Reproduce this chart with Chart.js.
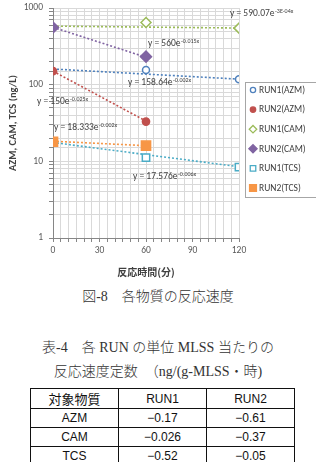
<!DOCTYPE html>
<html>
<head>
<meta charset="utf-8">
<script src="https://cdn.jsdelivr.net/npm/chart.js@4.4.1/dist/chart.umd.min.js"></script>
<style>
    body { margin: 0; background: #fff; width: 316px; height: 462px; overflow: hidden; position: relative; }
    #chart-box { position: absolute; left: 0; top: 0; width: 316px; height: 282px; }
    .serif { position: absolute; left: 0; width: 316px; text-align: center; color: #333;
             font-family: "Liberation Serif", "DejaVu Serif", "Noto Sans CJK JP", serif; font-weight: 300;
             font-size: 14px; line-height: 24px; white-space: nowrap; }
    #caption { top: 285px; }
    #table-title { top: 336px; }
    table { position: absolute; left: 30px; top: 388px; border-collapse: collapse; table-layout: fixed;
            font-family: "Liberation Sans", Arial, "Noto Sans CJK JP", sans-serif; font-size: 12px; color: #111; }
    td { border: 1px solid #111; height: 18px; padding: 0; text-align: center; width: 87px; }
    td.jp { font-size: 13px; }
</style>
</head>
<body>
<div id="chart-box"><canvas id="chart" width="316" height="282"></canvas></div>
<div id="caption" class="serif">図-8　各物質の反応速度</div>
<div id="table-title" class="serif">表-4　各 RUN の単位 MLSS 当たりの<br>反応速度定数　（ng/(g-MLSS・時)</div>
<table id="rate-table"></table>

<script>
// 1. Data
const seriesNames = ['RUN1(AZM)', 'RUN2(AZM)', 'RUN1(CAM)', 'RUN2(CAM)', 'RUN1(TCS)', 'RUN2(TCS)'];
const run1Times = [60, 120];
const run2Times = [0, 60];
const run1Azm = [155, 118];
const run2Azm = [150, 33];
const run1Cam = [648, 546];
const run2Cam = [557, 232];
const run1Tcs = [11.2, 8.4];
const run2Tcs = [18, 16];

// trend lines (end points)
const run1TrendTimes = [0, 120];
const run2TrendTimes = [0, 60];
const run1AzmTrend = [160, 118];
const run2AzmTrend = [150, 33.5];
const run1CamTrend = [580, 548];
const run2CamTrend = [560, 228];
const run1TcsTrend = [17.6, 8.5];
const run2TcsTrend = [18.3, 16];

const trendBase = ['y = 158.64e', 'y = 150e', 'y = 590.07e', 'y = 560e', 'y = 17.576e', 'y = 18.333e'];
const trendExp = ['-0.002x', '-0.025x', '-3E-04x', '-0.015x', '-0.006x', '-0.002x'];

const xLabelValues = [0, 30, 60, 90, 120];
const yLabelValues = [1, 10, 100, 1000];

const tableHead = ['対象物質', 'RUN1', 'RUN2'];
const tableRows = [
    ['AZM', '−0.17', '−0.61'],
    ['CAM', '−0.026', '−0.37'],
    ['TCS', '−0.52', '−0.05']
];

// 2. Styles
const colors = ['#4F81BD', '#C0504D', '#9BBB59', '#8064A2', '#4BACC6', '#F79646'];
const shapes = ['circle', 'circle', 'rectRot', 'rectRot', 'rect', 'rect'];
const hollow = [true, false, true, false, true, false];
const sizes = [3.5, 3.6, 5, 5.5, 5.2, 6.5];
const tickFont = { family: 'Carlito, Lato, "Open Sans", sans-serif', size: 9.5 };

// 3. Datasets
const xs = [run1Times, run2Times, run1Times, run2Times, run1Times, run2Times];
const ys = [run1Azm, run2Azm, run1Cam, run2Cam, run1Tcs, run2Tcs];
const trendXs = [run1TrendTimes, run2TrendTimes, run1TrendTimes, run2TrendTimes, run1TrendTimes, run2TrendTimes];
const trendYs = [run1AzmTrend, run2AzmTrend, run1CamTrend, run2CamTrend, run1TcsTrend, run2TcsTrend];

const markerSets = seriesNames.map((name, i) => ({
    label: name,
    data: xs[i].map((x, j) => ({ x: x, y: ys[i][j] })),
    showLine: false,
    pointStyle: shapes[i],
    pointRadius: sizes[i],
    pointHoverRadius: sizes[i],
    borderWidth: 1.5,
    borderColor: colors[i],
    backgroundColor: hollow[i] ? '#ffffff' : colors[i]
}));

const trendSets = seriesNames.map((name, i) => ({
    label: name + ' trend',
    data: trendXs[i].map((x, j) => ({ x: x, y: trendYs[i][j] })),
    showLine: true,
    pointRadius: 0,
    borderWidth: 1.6,
    borderDash: [2, 2],
    borderColor: colors[i],
    backgroundColor: colors[i]
}));

// 4. Plugins: legend box and trend equations
const legendBox = {
    id: 'legendBox',
    afterDraw(chart) {
        const ctx = chart.ctx;
        ctx.save();
        ctx.fillStyle = '#fff';
        ctx.strokeStyle = '#A6A6A6';
        ctx.lineWidth = 1;
        ctx.fillRect(245.5, 82.5, 80, 115);
        ctx.strokeRect(245.5, 82.5, 80, 115);
        ctx.font = '9.5px Carlito, Lato, "Open Sans", sans-serif';
        ctx.textBaseline = 'middle';
        seriesNames.forEach((name, i) => {
            const y = 90 + i * 19.6;
            ctx.fillStyle = hollow[i] ? '#fff' : colors[i];
            ctx.strokeStyle = colors[i];
            ctx.lineWidth = 1.3;
            Chart.helpers.drawPoint(ctx, {
                pointStyle: shapes[i], radius: sizes[i] * 0.75, rotation: 0, borderWidth: 1.3
            }, 253, y);
            ctx.fillStyle = '#404040';
            ctx.fillText(name, 259, y + 0.5);
        });
        ctx.restore();
    }
};

const equationLabels = {
    id: 'equationLabels',
    afterDatasetsDraw(chart) {
        const ctx = chart.ctx;
        const spots = [[128, 83], [37, 102], [230, 14], [148, 44], [133, 177], [54, 128]];
        ctx.save();
        ctx.fillStyle = '#404040';
        ctx.textBaseline = 'middle';
        spots.forEach((p, i) => {
            ctx.font = '9.5px Carlito, Lato, "Open Sans", sans-serif';
            ctx.fillText(trendBase[i], p[0], p[1]);
            const w = ctx.measureText(trendBase[i]).width;
            ctx.font = '6px Carlito, Lato, "Open Sans", sans-serif';
            ctx.fillText(trendExp[i], p[0] + w + 0.5, p[1] - 3);
        });
        ctx.restore();
    }
};

// 5. Chart
const isPow10 = v => {
    const l = Math.log10(v);
    return Math.abs(l - Math.round(l)) < 1e-9;
};

new Chart(document.getElementById('chart'), {
    type: 'scatter',
    data: { datasets: [...markerSets, ...trendSets] },
    options: {
        responsive: false,
        animation: false,
        layout: { padding: { top: 2, right: 77, left: 0, bottom: 0 } },
        plugins: { legend: { display: false }, tooltip: { enabled: false } },
        scales: {
            x: {
                type: 'linear',
                min: 0,
                max: 120,
                ticks: {
                    stepSize: 5,
                    autoSkip: false,
                    maxRotation: 0,
                    padding: 3,
                    color: '#595959',
                    font: tickFont,
                    callback: v => xLabelValues.includes(v) ? String(v) : ''
                },
                grid: { color: '#D9D9D9', tickLength: 4, tickColor: '#868686' },
                border: { color: '#868686' },
                title: {
                    display: true,
                    text: '反応時間(分)',
                    color: '#404040',
                    font: { family: '"Noto Sans CJK JP", sans-serif', size: 10, weight: 'bold' },
                    padding: { top: 0, bottom: 4 }
                },
                afterFit: s => { s.height = 44; s.paddingLeft = 0; s.paddingRight = 0; }
            },
            y: {
                type: 'logarithmic',
                min: 1,
                max: 1000,
                ticks: {
                    autoSkip: false,
                    padding: 6,
                    color: '#595959',
                    font: tickFont,
                    callback: v => (isPow10(v) && yLabelValues.includes(Math.round(v))) ? String(Math.round(v)) : ''
                },
                grid: { color: '#D9D9D9', tickLength: 4, tickColor: '#868686' },
                border: { color: '#868686' },
                title: {
                    display: true,
                    text: 'AZM, CAM, TCS (ng/L)',
                    color: '#404040',
                    font: { family: 'Carlito, Lato, "Open Sans", sans-serif', size: 10.5, weight: 'bold' },
                    padding: { top: 7, bottom: 0 }
                },
                afterFit: s => { s.width = 53; s.paddingTop = 0; s.paddingBottom = 0; }
            }
        }
    },
    plugins: [legendBox, equationLabels]
});

// 6. Table
document.getElementById('rate-table').innerHTML =
    '<tr>' + tableHead.map((h, i) => `<td class="${i === 0 ? 'jp' : ''}">${h}</td>`).join('') + '</tr>' +
    tableRows.map(r => '<tr>' + r.map(c => `<td>${c}</td>`).join('') + '</tr>').join('');
</script>
</body>
</html>
